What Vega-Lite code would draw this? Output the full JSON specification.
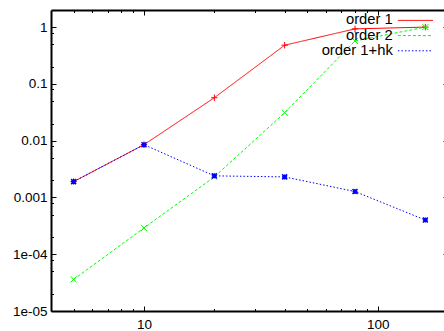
{
  "$schema": "https://vega.github.io/schema/vega-lite/v6.json",
  "width": 397,
  "height": 301,
  "autosize": {"type": "none"},
  "padding": {"left": 51, "top": 10, "right": 0, "bottom": 20},
  "background": "white",
  "config": {
    "view": {"stroke": null},
    "font": "Liberation Sans",
    "axis": {"grid": false, "domainColor": "black", "domainWidth": 2, "tickColor": "black", "tickWidth": 1, "labelFont": "Liberation Sans", "labelFontSize": 13.5, "labelColor": "black", "title": null},
    "legend": {"padding": 0, "columnPadding": 0}
  },
  "data": {
    "values": [
      {"series": "order 1", "x": 5, "y": 0.0019},
      {"series": "order 1", "x": 10, "y": 0.0085},
      {"series": "order 1", "x": 20, "y": 0.057},
      {"series": "order 1", "x": 40, "y": 0.48},
      {"series": "order 1", "x": 80, "y": 0.93},
      {"series": "order 1", "x": 160, "y": 1.0},
      {"series": "order 2", "x": 5, "y": 0.000036},
      {"series": "order 2", "x": 10, "y": 0.00029},
      {"series": "order 2", "x": 20, "y": 0.0023},
      {"series": "order 2", "x": 40, "y": 0.031},
      {"series": "order 2", "x": 80, "y": 0.57},
      {"series": "order 2", "x": 160, "y": 1.0},
      {"series": "order 1+hk", "x": 5, "y": 0.0019},
      {"series": "order 1+hk", "x": 10, "y": 0.0085},
      {"series": "order 1+hk", "x": 20, "y": 0.0024},
      {"series": "order 1+hk", "x": 40, "y": 0.0023},
      {"series": "order 1+hk", "x": 80, "y": 0.00127},
      {"series": "order 1+hk", "x": 160, "y": 0.0004}
    ]
  },
  "layer": [
    {
      "mark": {"type": "line", "strokeWidth": 1},
      "encoding": {
        "x": {"field": "x", "type": "quantitative", "scale": {"type": "log", "domain": [4, 200], "nice": false},
          "axis": {"orient": "bottom", "values": [5,6,7,8,9,10,20,30,40,50,60,70,80,90,100,200],
            "labelExpr": "datum.value == 10 || datum.value == 100 ? format(datum.value, 'd') : ''",
            "tickSize": {"condition": {"test": "datum.value == 10 || datum.value == 100", "value": -5}, "value": -2.5},
            "labelPadding": 11}},
        "y": {"field": "y", "type": "quantitative", "scale": {"type": "log", "domain": [0.00001, 2], "nice": false},
          "axis": {"orient": "left", "values": [0.00001,0.00002,0.00005,0.00008,0.0001,0.0002,0.0005,0.0008,0.001,0.002,0.005,0.008,0.01,0.02,0.05,0.08,0.1,0.2,0.5,0.8,1],
            "labelExpr": "abs(log(datum.value)/LN10 - round(log(datum.value)/LN10)) < 0.001 ? (datum.value >= 0.001 ? format(datum.value, '~g') : (datum.value < 0.00005 ? '1e-05' : '1e-04')) : ''",
            "tickSize": {"condition": {"test": "abs(log(datum.value)/LN10 - round(log(datum.value)/LN10)) < 0.001", "value": -5}, "value": -2.5},
            "labelPadding": 9}},
        "color": {"field": "series", "type": "nominal",
          "scale": {"domain": ["order 1", "order 2", "order 1+hk"], "range": ["#ff0000", "#00ff00", "#0000ff"]},
          "legend": {"title": null, "orient": "none", "legendX": 357, "legendY": 3, "symbolType": "M-5,0L5,0", "symbolSize": 49, "symbolStrokeWidth": 1, "symbolFillColor": "transparent",
            "labelAlign": "right", "labelOffset": -30, "labelFontSize": 14.8, "labelFont": "Liberation Sans", "labelColor": "black", "rowPadding": -0.8}},
        "strokeDash": {"field": "series", "type": "nominal",
          "scale": {"domain": ["order 1", "order 2", "order 1+hk"], "range": [[1, 0], [3, 2], [1.5, 2]]},
          "legend": {"title": null, "orient": "none", "legendX": 357, "legendY": 3, "symbolType": "M-5,0L5,0", "symbolSize": 49, "symbolStrokeWidth": 1, "symbolFillColor": "transparent",
            "labelAlign": "right", "labelOffset": -30, "labelFontSize": 14.8, "labelFont": "Liberation Sans", "labelColor": "black", "rowPadding": -0.8}}
      }
    },
    {
      "transform": [{"filter": "datum.series == 'order 1'"}],
      "mark": {"type": "point", "filled": false, "strokeWidth": 1, "color": "#ff0000", "shape": "M-1,0L1,0M0,-1L0,1", "size": 42, "opacity": 1},
      "encoding": {
        "x": {"field": "x", "type": "quantitative", "axis": null},
        "y": {"field": "y", "type": "quantitative", "axis": null}
      }
    },
    {
      "transform": [{"filter": "datum.series == 'order 2'"}],
      "mark": {"type": "point", "filled": false, "strokeWidth": 1, "color": "#00ff00", "shape": "M-1,-1L1,1M-1,1L1,-1", "size": 36, "opacity": 1},
      "encoding": {
        "x": {"field": "x", "type": "quantitative", "axis": null},
        "y": {"field": "y", "type": "quantitative", "axis": null}
      }
    },
    {
      "transform": [{"filter": "datum.series == 'order 1+hk'"}],
      "mark": {"type": "point", "filled": false, "strokeWidth": 1.5, "color": "#0000ff", "shape": "M-1,0L1,0M0,-1L0,1M-1,-1L1,1M-1,1L1,-1", "size": 25, "opacity": 1},
      "encoding": {
        "x": {"field": "x", "type": "quantitative", "axis": null},
        "y": {"field": "y", "type": "quantitative", "axis": null}
      }
    },
    {
      "mark": {"type": "point", "opacity": 0},
      "encoding": {
        "x": {"field": "x", "type": "quantitative",
          "axis": {"orient": "top", "values": [5,6,7,8,9,10,20,30,40,50,60,70,80,90,100,200], "labels": false,
            "tickSize": {"condition": {"test": "datum.value == 10 || datum.value == 100", "value": -5}, "value": -2.5}}},
        "y": {"field": "y", "type": "quantitative",
          "axis": {"orient": "right", "values": [0.00001,0.00002,0.00005,0.00008,0.0001,0.0002,0.0005,0.0008,0.001,0.002,0.005,0.008,0.01,0.02,0.05,0.08,0.1,0.2,0.5,0.8,1], "labels": false,
            "tickSize": {"condition": {"test": "abs(log(datum.value)/LN10 - round(log(datum.value)/LN10)) < 0.001", "value": -5}, "value": -2.5}}}
      }
    }
  ],
  "resolve": {"axis": {"x": "independent", "y": "independent"}}
}
